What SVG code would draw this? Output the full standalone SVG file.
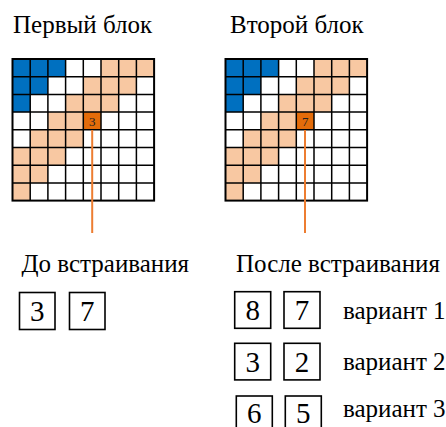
<svg xmlns="http://www.w3.org/2000/svg" xmlns:xlink="http://www.w3.org/1999/xlink" width="446" height="427" viewBox="0 0 446 427">
<style>
text { font-family: 'Liberation Serif', 'Times New Roman', serif; fill: #000; }
.lbl { font-size: 25px; }
.dig { font-size: 29px; text-anchor: middle; }
.cellnum { font-size: 13px; text-anchor: middle; fill: #222; }
.box { fill: #fff; stroke: #000; stroke-width: 1.6; }
.blue { fill: #0070C0; }
.lor { fill: #F8C8A2; }
.red { fill: #E46C0A; }
.grid { fill: none; stroke: #000; stroke-width: 1.5; }
.outer { fill: none; stroke: #000; stroke-width: 2; }
.conn { stroke: #ED7D31; stroke-width: 2; fill: none; }
</style>
<defs>
<g id="pattern">
<rect width="141.6" height="141.6" fill="#fff"/>
<rect class="blue" x="0" y="0" width="53.1" height="17.7"/>
<rect class="blue" x="0" y="17.7" width="35.4" height="17.7"/>
<rect class="blue" x="0" y="35.4" width="17.7" height="17.7"/>
<rect class="lor" x="88.5" y="0" width="53.1" height="17.7"/>
<rect class="lor" x="70.8" y="17.7" width="53.1" height="17.7"/>
<rect class="lor" x="53.1" y="35.4" width="53.1" height="17.7"/>
<rect class="lor" x="35.4" y="53.1" width="35.4" height="17.7"/>
<rect class="red" x="70.8" y="53.1" width="17.7" height="17.7"/>
<rect class="lor" x="17.7" y="70.8" width="53.1" height="17.7"/>
<rect class="lor" x="0" y="88.5" width="53.1" height="17.7"/>
<rect class="lor" x="0" y="106.2" width="35.4" height="17.7"/>
<rect class="lor" x="0" y="123.9" width="17.7" height="17.7"/>
<path class="grid" d="M17.7 0V141.6M35.4 0V141.6M53.1 0V141.6M70.8 0V141.6M88.5 0V141.6M106.2 0V141.6M123.9 0V141.6M0 17.7H141.6M0 35.4H141.6M0 53.1H141.6M0 70.8H141.6M0 88.5H141.6M0 106.2H141.6M0 123.9H141.6"/>
<rect class="outer" width="141.6" height="141.6"/>
</g>
</defs>
<rect width="446" height="427" fill="#fff"/>

<g id="block1">
<text class="lbl" x="13" y="33">Первый блок</text>
<use xlink:href="#pattern" href="#pattern" x="12.5" y="59"/>
<text class="cellnum" x="92.2" y="126">3</text>
</g>

<g id="block2">
<text class="lbl" x="230" y="33">Второй блок</text>
<use xlink:href="#pattern" href="#pattern" x="225.5" y="59"/>
<text class="cellnum" x="305.2" y="126">7</text>
</g>

<g id="connectors">
<line class="conn" x1="92.2" y1="130" x2="92.2" y2="233"/>
<line class="conn" x1="305" y1="130" x2="305" y2="233"/>
</g>

<g id="before">
<text class="lbl" x="21.5" y="272">До встраивания</text>
<rect class="box" x="19.5" y="292.5" width="35.5" height="37"/>
<text class="dig" x="37.3" y="320.5">3</text>
<rect class="box" x="69.5" y="292.5" width="35.5" height="37"/>
<text class="dig" x="87.3" y="320.5">7</text>
</g>

<g id="after">
<text class="lbl" x="236" y="272">После встраивания</text>
</g>

<g id="variant1">
<rect class="box" x="234.7" y="291.7" width="36" height="36.6"/>
<text class="dig" x="252.7" y="320">8</text>
<rect class="box" x="284" y="291.7" width="36" height="36.6"/>
<text class="dig" x="302" y="320">7</text>
<text class="lbl" x="343" y="319">вариант 1</text>
</g>

<g id="variant2">
<rect class="box" x="234.7" y="343.3" width="36" height="36.6"/>
<text class="dig" x="252.7" y="371.5">3</text>
<rect class="box" x="284" y="343.3" width="36" height="36.6"/>
<text class="dig" x="302" y="371.5">2</text>
<text class="lbl" x="343" y="369.5">вариант 2</text>
</g>

<g id="variant3">
<rect class="box" x="236.3" y="396" width="36" height="36.6"/>
<text class="dig" x="254.3" y="423">6</text>
<rect class="box" x="285.3" y="396" width="36" height="36.6"/>
<text class="dig" x="303.3" y="423">5</text>
<text class="lbl" x="343" y="417">вариант 3</text>
</g>
</svg>
